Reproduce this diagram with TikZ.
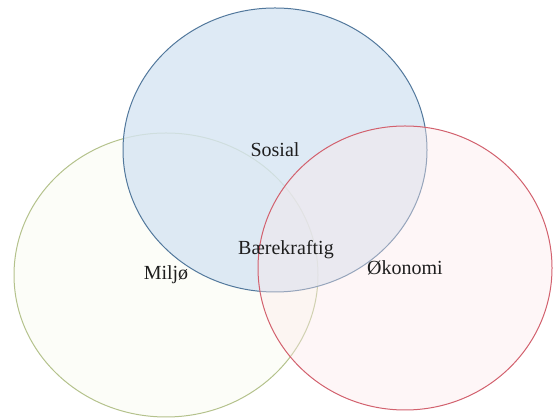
\documentclass[tikz,border=0pt]{standalone}
\usepackage{fontspec}
\setmainfont{Liberation Serif}
\definecolor{ringBlue}{HTML}{52789C}
\definecolor{fillBlue}{HTML}{D6E5F3}
\definecolor{ringGreen}{HTML}{B4C28C}
\definecolor{fillGreen}{HTML}{FCFDF7}
\definecolor{ringRed}{HTML}{D2616E}
\definecolor{fillRed}{HTML}{FCE8EA}
\definecolor{labelText}{HTML}{1E1E1E}
\usepackage{tikz}
\usetikzlibrary{positioning,shapes.geometric}

\begin{document}
\begin{tikzpicture}[x=1pt, y=1pt,
  setring/.style={ellipse, line width=1pt, inner sep=0pt,
    minimum width=304pt, minimum height=284pt, text opacity=1,
    text=labelText, font=\fontsize{20}{24}\selectfont},
  core/.style={text=labelText, font=\fontsize{20}{24}\selectfont}
]
  \useasboundingbox (0,0) rectangle (553,419);
  \node[setring, draw=ringGreen, fill=fillGreen, fill opacity=0.9] (miljo) at (166,144) {Milj\o};
  \node[setring, draw=ringBlue, fill=fillBlue, fill opacity=0.8] (sosial) at (275,269) {Sosial};
  \node[setring, draw=ringRed, fill=fillRed, fill opacity=0.4,
    minimum width=294pt] (okonomi) at (405,151) {\O konomi};
  \node[core] (baerekraftig) at (286,169) {B\ae rekraftig};
\end{tikzpicture}
\end{document}
